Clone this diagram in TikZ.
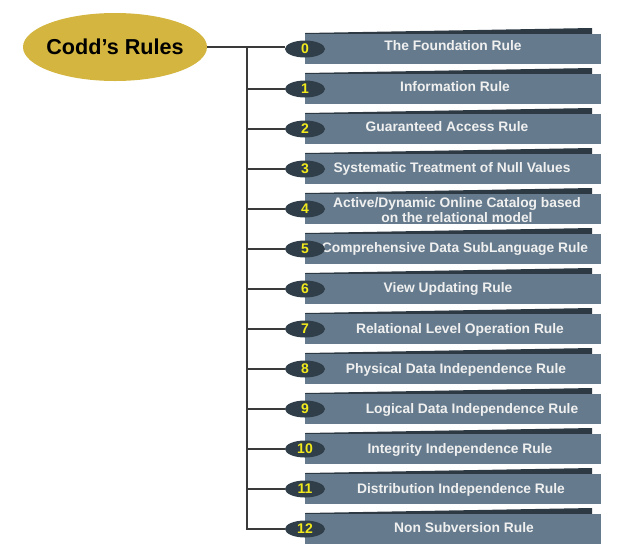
\documentclass[tikz,border=0pt]{standalone}
\usepackage{fontspec}
\setmainfont{Liberation Sans}
\usetikzlibrary{shapes.geometric}
\definecolor{barcol}{HTML}{657B8D}
\definecolor{stripcol}{HTML}{2D3A44}
\definecolor{badgecol}{HTML}{2F3E49}
\definecolor{numcol}{HTML}{F2EA1C}
\definecolor{goldcol}{HTML}{D3B53F}
\definecolor{linecol}{HTML}{3A3A3A}
\tikzset{
  rulebar/.style={fill=barcol, draw=none, minimum width=296pt, minimum height=30pt, inner sep=0pt},
  ruletext/.style={inner sep=0pt, text=white!94!black, font=\bfseries\fontsize{13.8}{15.5}\selectfont, align=center},
  badge/.style={ellipse, fill=badgecol, draw=none, minimum width=40pt, minimum height=17pt, inner sep=0pt,
    text=numcol, font=\bfseries\fontsize{14}{14}\selectfont},
  conn/.style={draw=linecol, line width=1.3pt},
}
\begin{document}
\begin{tikzpicture}[x=1pt,y=-1pt]
\useasboundingbox (0,0) rectangle (634,550);
\node[ellipse, fill=goldcol, minimum width=184pt, minimum height=68pt, inner sep=0pt] (root) at (115,47) {};
\node[inner sep=0pt, font=\bfseries\fontsize{21.6}{23}\selectfont] (roottext) at (root.center) {Codd’s Rules};
\foreach \i/\tx/\ty/\t in {0/453/-3/{The Foundation Rule},1/455/-2/{Information Rule},2/447/-2/{Guaranteed Access Rule},
  3/452/0/{Systematic Treatment of Null Values},4/457/1/{Active/Dynamic Online Catalog based\\on the relational model},
  5/455/0/{Comprehensive Data SubLanguage Rule},6/448/0/{View Updating Rule},7/460/1/{Relational Level Operation Rule},
  8/456/1/{Physical Data Independence Rule},9/472/1/{Logical Data Independence Rule},10/460/1/{Integrity Independence Rule},
  11/461/1/{Distribution Independence Rule},12/464/-1/{Non Subversion Rule}}{
  \pgfmathsetmacro{\yc}{49+40*\i}
  \fill[stripcol] (305,\yc-15) -- (305,\yc-16) -- (592,\yc-21) -- (592,\yc-15) -- cycle;
  \node[rulebar] (b\i) at (453,\yc) {};
  \node[ruletext] (t\i) at (\tx,\yc+\ty) {\t};
  \node[badge] (n\i) at (305,\yc) {\i};
}
\coordinate (trunk) at (247,47);
\draw[conn] (root.east) -- (root.east -| n0.west);
\foreach \i in {1,...,12}{
  \draw[conn] (trunk) |- (n\i.west);
}
\end{tikzpicture}
\end{document}
